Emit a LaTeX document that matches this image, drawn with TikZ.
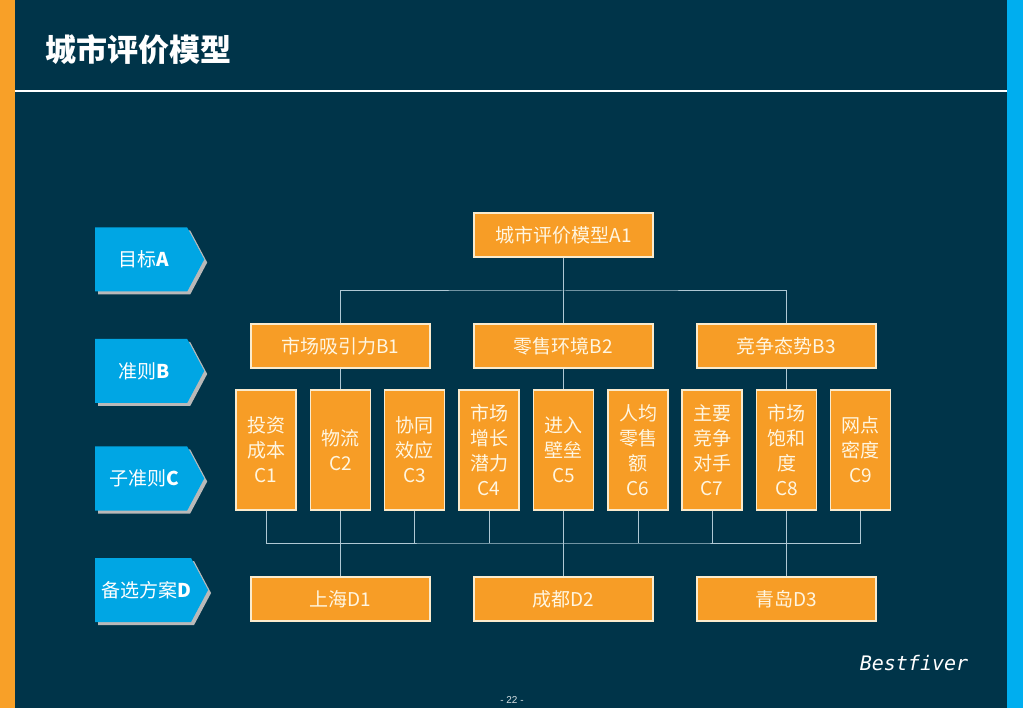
\documentclass[tikz,border=0pt]{standalone}
\usepackage{fontspec}
\setmainfont{Liberation Sans}
\newfontfamily\cjk{Noto Sans CJK SC}
\newfontfamily\monofv{DejaVu Sans Mono}
\usetikzlibrary{shapes.symbols,shadows}
\definecolor{bgnavy}{RGB}{0,52,73}
\definecolor{stripor}{RGB}{248,160,40}
\definecolor{stripbl}{RGB}{0,174,239}
\definecolor{tagblue}{RGB}{0,166,228}
\definecolor{boxfill}{RGB}{247,157,38}
\definecolor{boxline}{RGB}{250,235,205}
\definecolor{boxtext}{RGB}{255,246,225}
\definecolor{linkcol}{RGB}{175,200,212}

\begin{document}
\begin{tikzpicture}[x=1pt,y=-1pt,
  box/.style={draw=boxline,line width=1.2pt,fill=boxfill,text=boxtext,inner sep=0pt,align=center,
    font=\cjk\fontsize{19}{25}\selectfont},
  wide/.style={box,minimum width=179pt,minimum height=44pt},
  tall/.style={box,minimum width=60pt,minimum height=120pt},
  tag/.style={signal,signal to=east,signal pointer angle=124,fill=tagblue,text=white,
    minimum width=109pt,minimum height=64pt,inner sep=0pt,anchor=west,
    font=\cjk\fontsize{19}{19}\selectfont,
    drop shadow={shadow xshift=3pt,shadow yshift=-3pt,fill=gray!55,opacity=1}},
  link/.style={draw=linkcol,line width=1pt}]
  \fill[bgnavy] (0,0) rectangle (1023,708);
  \useasboundingbox (0,0) rectangle (1023,708);
  \fill[stripor] (0,0) rectangle (15,708);
  \fill[stripbl] (1007,0) rectangle (1023,708);
  \draw[white,line width=2pt] (15,91) -- (1007,91);
  \node[anchor=west,text=white,font=\cjk\bfseries\fontsize{31}{31}\selectfont] (title) at (42,50) {城市评价模型};

  % level tags
  \node[tag] (tagA) at (95,259.5) {\hspace{6pt}目标\textbf{A}};
  \node[tag] (tagB) at (95,371) {\hspace{6pt}准则\textbf{B}};
  \node[tag] (tagC) at (95,478.5) {\hspace{6pt}子准则\textbf{C}};
  \node[tag] (tagD) at (95,590) {\hspace{6pt}备选方案\textbf{D}};

  % boxes
  \node[wide] (A1) at (563.5,235) {城市评价模型A1};
  \node[wide] (B1) at (340.5,346) {市场吸引力B1};
  \node[wide] (B2) at (563.5,346) {零售环境B2};
  \node[wide] (B3) at (786.5,346) {竞争态势B3};
  \foreach \i/\x/\t in {1/266/投资\\成本\\C1, 2/340.5/物流\\C2, 3/414.5/协同\\效应\\C3,
      4/489/市场\\增长\\潜力\\C4, 5/563.5/进入\\壁垒\\C5, 6/638/人均\\零售\\额\\C6,
      7/712/主要\\竞争\\对手\\C7, 8/786.5/市场\\饱和\\度\\C8, 9/860.5/网点\\密度\\C9}
    { \node[tall] (C\i) at (\x,450) {\t}; }
  \node[wide] (D1) at (340.5,599) {上海D1};
  \node[wide] (D2) at (563.5,599) {成都D2};
  \node[wide] (D3) at (786.5,599) {青岛D3};

  % connectors
  \coordinate (busAB) at (563.5,291);
  \coordinate (busCD) at (563.5,543);
  \draw[link] (A1.south) -- (B2.north);
  \draw[link] (B1.north) |- (busAB) -| (B3.north);
  \draw[link] (B1.south) -- (C2.north);
  \draw[link] (B2.south) -- (C5.north);
  \draw[link] (B3.south) -- (C8.north);
  \draw[link] (C1.south) |- (busCD) -| (C9.south);
  \foreach \i in {3,4,6,7} { \draw[link] (C\i.south) -- (C\i.south |- busCD); }
  \draw[link] (C2.south) -- (D1.north);
  \draw[link] (C5.south) -- (D2.north);
  \draw[link] (C8.south) -- (D3.north);

  \node[text=white,font=\monofv\itshape\fontsize{20}{20}\selectfont] (brand) at (914,663) {Bestfiver};
  \node[text=white!85!bgnavy,font=\fontsize{10}{10}\selectfont] (page) at (512,700) {- 22 -};
\end{tikzpicture}
\end{document}
